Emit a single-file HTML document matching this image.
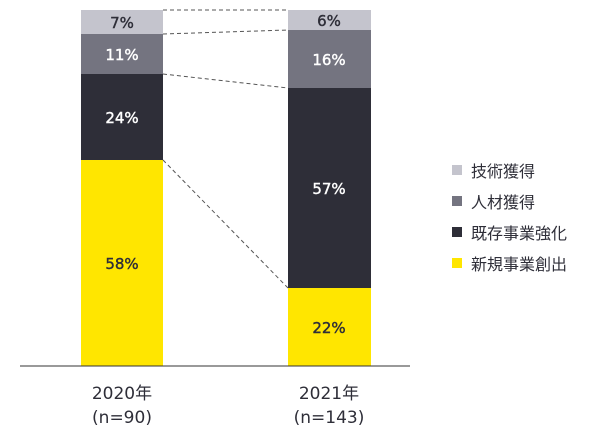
<!DOCTYPE html>
<html><head><meta charset="utf-8"><style>
body{margin:0;background:#fff;}
svg text{font-family:"DejaVu Sans","Noto Sans CJK JP",sans-serif;}
</style></head><body>
<svg width="600" height="430" viewBox="0 0 600 430" xmlns="http://www.w3.org/2000/svg">
<rect x="81" y="10" width="82" height="24" fill="#c4c4cd"/>
<rect x="81" y="34" width="82" height="40" fill="#747480"/>
<rect x="81" y="74" width="82" height="86" fill="#2e2e38"/>
<rect x="81" y="160" width="82" height="206" fill="#ffe600"/>
<rect x="288" y="10" width="83" height="20" fill="#c4c4cd"/>
<rect x="288" y="30" width="83" height="58" fill="#747480"/>
<rect x="288" y="88" width="83" height="200" fill="#2e2e38"/>
<rect x="288" y="288" width="83" height="78" fill="#ffe600"/>
<g stroke="#555" stroke-width="1" stroke-dasharray="4,3" fill="none">
<line x1="163" y1="10" x2="288" y2="10"/>
<line x1="163" y1="34" x2="288" y2="30"/>
<line x1="163" y1="74" x2="288" y2="88"/>
<line x1="163" y1="160" x2="288" y2="288"/>
</g>
<line x1="20" y1="366" x2="410" y2="366" stroke="#333" stroke-width="1"/>
<g font-size="15" text-anchor="middle" stroke-width="0.4">
<text x="122" y="28" fill="#2e2e38" stroke="#2e2e38">7%</text>
<text x="122" y="60" fill="#fff" stroke="#fff">11%</text>
<text x="122" y="123" fill="#fff" stroke="#fff">24%</text>
<text x="122" y="269" fill="#2e2e38" stroke="#2e2e38">58%</text>
<text x="329" y="26" fill="#2e2e38" stroke="#2e2e38">6%</text>
<text x="329" y="65" fill="#fff" stroke="#fff">16%</text>
<text x="329" y="194" fill="#fff" stroke="#fff">57%</text>
<text x="329" y="333" fill="#2e2e38" stroke="#2e2e38">22%</text>
</g>
<g font-size="17" text-anchor="middle" fill="#2e2e38">
<text x="122" y="399">2020年</text>
<text x="122" y="423">(n=90)</text>
<text x="329" y="399">2021年</text>
<text x="329" y="423">(n=143)</text>
</g>
<rect x="452" y="165" width="10" height="10" fill="#c4c4cd"/>
<rect x="452" y="196" width="10" height="10" fill="#747480"/>
<rect x="452" y="227" width="10" height="10" fill="#2e2e38"/>
<rect x="452" y="258" width="10" height="10" fill="#ffe600"/>
<g font-size="16" fill="#2e2e38">
<text x="471" y="177">技術獲得</text>
<text x="471" y="208">人材獲得</text>
<text x="471" y="239">既存事業強化</text>
<text x="471" y="270">新規事業創出</text>
</g>
</svg>
</body></html>
